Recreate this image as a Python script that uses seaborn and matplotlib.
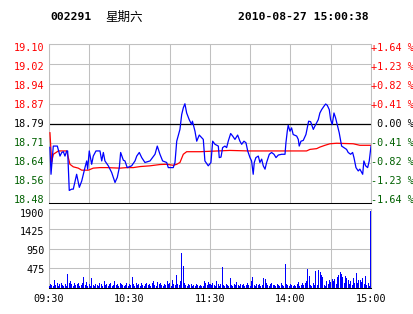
import matplotlib
matplotlib.use("Agg")
import matplotlib.pyplot as plt
import seaborn as sns
import pandas as pd
from matplotlib.transforms import offset_copy, blended_transform_factory

# ---------------- data ----------------
stock_code = "002291"
weekday = "星期六"
timestamp = "2010-08-27 15:00:38"
prev_close = 18.79
price_ticks = ["19.10", "19.02", "18.94", "18.87", "18.79", "18.71", "18.64", "18.56", "18.48"]
pct_ticks = ["+1.64 %", "+1.23 %", "+0.82 %", "+0.41 %", " 0.00 %",
             "-0.41 %", "-0.82 %", "-1.23 %", "-1.64 %"]
vol_ticks = ["1900", "1425", "950", "475"]
vol_max = 1900
time_labels = ["09:30", "10:30", "11:30", "14:00", "15:00"]
time_label_minutes = [0, 60, 120, 180, 240]

# minutes since open (lunch break removed) and price
price_t = [0.7, 1.5, 3.2, 6.2, 8.2, 9.5, 10.7, 11.9, 13.2, 13.9, 15.1, 16.9, 18.1, 20.6,
           22.6, 24.4, 26.8, 28.1, 28.8, 30.0, 31.8, 33.0, 35.0, 38.0, 39.3, 40.5, 41.7,
           44.2, 46.7, 49.2, 50.9, 52.4, 53.4, 55.4, 56.6, 58.3, 61.6, 64.1, 65.4, 67.3,
           69.1, 71.5, 75.3, 79.0, 80.7, 82.7, 84.7, 87.7, 88.9, 92.6, 93.9, 95.2, 97.6,
           98.9, 100.1, 101.3, 102.6, 104.5, 106.3, 106.9, 108.8, 110.1, 112.0, 115.0,
           116.2, 118.7, 120.7, 122.0, 123.7, 126.2, 126.9, 128.2, 129.4, 131.1, 132.4,
           133.6, 135.4, 136.9, 138.6, 140.6, 142.3, 143.6, 145.3, 146.8, 148.1, 149.8,
           151.0, 152.2, 153.0, 154.2, 156.0, 157.2, 158.5, 159.7, 161.0, 162.2, 164.2,
           165.9, 167.7, 169.2, 170.9, 173.4, 175.9, 176.6, 177.6, 178.3, 179.6, 180.8,
           182.0, 184.6, 185.8, 186.5, 187.8, 189.5, 191.5, 192.5, 193.5, 195.0, 197.0,
           198.2, 199.5, 200.7, 201.9, 203.2, 204.9, 206.2, 207.4, 208.9, 209.9, 211.1,
           212.4, 213.6, 214.8, 216.3, 218.1, 219.8, 221.8, 223.0, 224.8, 226.3, 227.3,
           228.8, 230.5, 231.7, 233.8, 234.7, 236.0, 237.5, 238.7, 240.0]
price_v = [18.697, 18.592, 18.702, 18.702, 18.663, 18.677, 18.680, 18.663, 18.683, 18.683,
           18.529, 18.534, 18.534, 18.592, 18.541, 18.566, 18.618, 18.644, 18.612, 18.683,
           18.631, 18.663, 18.683, 18.683, 18.644, 18.677, 18.644, 18.625, 18.599, 18.560,
           18.580, 18.618, 18.677, 18.647, 18.644, 18.618, 18.625, 18.644, 18.663, 18.677,
           18.657, 18.638, 18.644, 18.670, 18.702, 18.670, 18.644, 18.638, 18.618, 18.618,
           18.638, 18.721, 18.767, 18.825, 18.851, 18.867, 18.831, 18.805, 18.786, 18.799,
           18.760, 18.721, 18.745, 18.728, 18.644, 18.625, 18.638, 18.721, 18.709, 18.702,
           18.657, 18.659, 18.696, 18.702, 18.696, 18.721, 18.751, 18.741, 18.728, 18.745,
           18.721, 18.709, 18.721, 18.715, 18.683, 18.657, 18.644, 18.592, 18.638, 18.657,
           18.663, 18.638, 18.651, 18.625, 18.612, 18.638, 18.670, 18.677, 18.670, 18.657,
           18.667, 18.670, 18.670, 18.715, 18.760, 18.783, 18.760, 18.773, 18.747, 18.741,
           18.728, 18.702, 18.721, 18.724, 18.747, 18.773, 18.799, 18.797, 18.767, 18.780,
           18.793, 18.805, 18.831, 18.844, 18.857, 18.866, 18.861, 18.844, 18.805, 18.786,
           18.831, 18.812, 18.786, 18.754, 18.702, 18.696, 18.689, 18.677, 18.670, 18.677,
           18.657, 18.618, 18.605, 18.612, 18.592, 18.644, 18.625, 18.618, 18.644, 18.702]

avg_t = [0.7, 2.0, 3.2, 7.0, 13.2, 15.6, 18.1, 21.8, 24.4, 29.3, 33.0, 38.0, 43.0, 52.9,
         57.9, 62.8, 67.8, 75.3, 82.7, 87.7, 92.6, 95.2, 97.6, 100.1, 102.6, 112.5, 134.9,
         148.5, 174.6, 192.0, 194.5, 199.5, 201.9, 205.7, 209.4, 214.4, 226.7, 231.7, 240.0]
avg_v = [18.754, 18.639, 18.670, 18.683, 18.683, 18.631, 18.621, 18.616, 18.608, 18.608,
         18.616, 18.618, 18.618, 18.616, 18.618, 18.618, 18.622, 18.625, 18.630, 18.631,
         18.627, 18.631, 18.638, 18.670, 18.680, 18.680, 18.685, 18.683, 18.683, 18.683,
         18.689, 18.692, 18.698, 18.705, 18.711, 18.713, 18.711, 18.705, 18.705]

volume = [60, 90, 70, 50, 190, 80, 130, 60, 100, 120,
          70, 50, 90, 60, 340, 110, 170, 90, 60, 120,
          80, 100, 120, 60, 80, 110, 260, 70, 150, 60,
          90, 60, 240, 80, 50, 100, 70, 60, 120, 90,
          60, 170, 80, 100, 60, 90, 110, 50, 70, 160,
          80, 100, 60, 120, 90, 70, 60, 80, 110, 60,
          90, 70, 270, 100, 60, 120, 80, 90, 60, 110,
          80, 60, 100, 130, 70, 90, 60, 110, 170, 80,
          60, 140, 90, 110, 70, 60, 100, 80, 160, 90,
          120, 60, 200, 90, 70, 310, 100, 80, 160, 850,
          530, 120, 80, 60, 90, 70, 100, 60, 80, 60,
          90, 70, 60, 80, 50, 60, 180, 110, 80, 150,
          90, 70, 110, 80, 60, 170, 90, 60, 100, 510,
          80, 60, 90, 70, 60, 240, 80, 60, 100, 70,
          150, 80, 60, 90, 70, 100, 60, 80, 110, 70,
          60, 170, 260, 80, 60, 90, 70, 100, 60, 80,
          230, 210, 110, 80, 60, 100, 130, 80, 70, 60,
          90, 70, 60, 130, 80, 60, 570, 100, 70, 60,
          90, 70, 60, 80, 50, 90, 140, 60, 80, 110,
          70, 120, 160, 460, 280, 80, 60, 110, 70, 410,
          80, 430, 380, 320, 260, 80, 60, 170, 90, 200,
          150, 220, 160, 210, 90, 260, 310, 390, 330, 270,
          110, 300, 250, 200, 90, 160, 70, 250, 120, 360,
          110, 200, 190, 150, 230, 90, 280, 70, 120, 60,
          1850]

# ---------------- style ----------------
RED = "#FF0000"
GREEN = "#006000"
BLUE = "#0000FF"
GRID = "#C0C0C0"
MONO = "DejaVu Sans Mono"

W, H = 414, 314
fig = plt.figure(figsize=(W / 100, H / 100), dpi=100)
fig.patch.set_facecolor("white")

def px_rect(x0, y0, x1, y1):
    return [x0 / W, 1 - y1 / H, (x1 - x0) / W, (y1 - y0) / H]

ax = fig.add_axes(px_rect(49, 44, 371, 203))
axv = fig.add_axes(px_rect(49, 209, 371, 288))

n_min = len(volume) - 1
price_lo, price_hi = float(price_ticks[-1]), float(price_ticks[0])
grid_levels = [price_lo + i * (price_hi - price_lo) / 8 for i in range(9)]

# ---- common panel styling ----
for a in (ax, axv):
    a.set_xlim(0, n_min)
    a.set_xticks(range(0, n_min + 1, 30))
    a.tick_params(length=0, labelbottom=False, labelleft=False)
    a.grid(True, color=GRID, linewidth=0.75)
    a.set_axisbelow(True)
    for s in a.spines.values():
        s.set_color(GRID)
        s.set_linewidth(0.75)
    a.spines["bottom"].set_color("black")

# ---- price panel ----
ax.set_ylim(price_lo, price_hi)
ax.set_yticks(grid_levels)
ax.axhline(prev_close, color="black", linewidth=0.9, zorder=2)

df_price = pd.DataFrame({"t": price_t, "p": price_v})
df_avg = pd.DataFrame({"t": avg_t, "p": avg_v})
sns.lineplot(data=df_avg, x="t", y="p", ax=ax, color=RED, linewidth=0.9, zorder=3)
sns.lineplot(data=df_price, x="t", y="p", ax=ax, color=BLUE, linewidth=0.9, zorder=4)
ax.set_xlabel("")
ax.set_ylabel("")
ax.set_xlim(0, n_min)
ax.set_ylim(price_lo, price_hi)

lab_top, lab_bot = 0.977, 0.019
for i, (pl, pc) in enumerate(zip(price_ticks, pct_ticks)):
    yf = lab_top - i * (lab_top - lab_bot) / 8
    val = float(pl)
    col = RED if val > prev_close + 1e-9 else ("black" if abs(val - prev_close) < 1e-9 else GREEN)
    ax.text(0, yf, pl, transform=offset_copy(ax.transAxes, fig=fig, x=-4.5, y=0, units="dots"),
            ha="right", va="center", fontsize=7.3, family=MONO, color=col)
    ax.text(1, yf, pc, transform=offset_copy(ax.transAxes, fig=fig, x=0.5, y=0, units="dots"),
            ha="left", va="center", fontsize=7.3, family=MONO, color=col)

# ---- volume panel ----
df_vol = pd.DataFrame({"t": list(range(len(volume))), "v": volume})
sns.barplot(data=df_vol, x="t", y="v", ax=axv, native_scale=True, color=BLUE,
            saturation=1, width=0.75, linewidth=0, errorbar=None, zorder=3,
            antialiased=False)
axv.set_xlabel("")
axv.set_ylabel("")
axv.set_xlim(0, n_min)
axv.set_ylim(0, vol_max)
axv.set_yticks([int(v) for v in vol_ticks])
axv.tick_params(length=0, labelbottom=False, labelleft=False)

vlab_top, vlab_bot = 0.943, 0.228
for i, vl in enumerate(vol_ticks):
    yf = vlab_top - i * (vlab_top - vlab_bot) / 3
    axv.text(0, yf, vl, transform=offset_copy(axv.transAxes, fig=fig, x=-4.5, y=0, units="dots"),
             ha="right", va="center", fontsize=7.3, family=MONO, color="black")

tr = blended_transform_factory(axv.transData, axv.transAxes)
for m, tl in zip(time_label_minutes, time_labels):
    axv.text(m, 0, tl, transform=offset_copy(tr, fig=fig, x=0, y=-11, units="dots"),
             ha="center", va="center", fontsize=7.3, family=MONO, color="black")

# ---- header ----
fig.text(50 / W, 1 - 17 / H, stock_code, ha="left", va="center", fontsize=8.2,
         family=MONO, fontweight="bold", color="black")
fig.text(105 / W, 1 - 17 / H, weekday, ha="left", va="center", fontsize=9,
         family=["Noto Sans CJK SC", "DejaVu Sans"], color="black")
fig.text(238 / W, 1 - 17 / H, timestamp, ha="left", va="center", fontsize=8.2,
         family=MONO, fontweight="bold", color="black")

fig.savefig("out.png", dpi=100, facecolor="white")
